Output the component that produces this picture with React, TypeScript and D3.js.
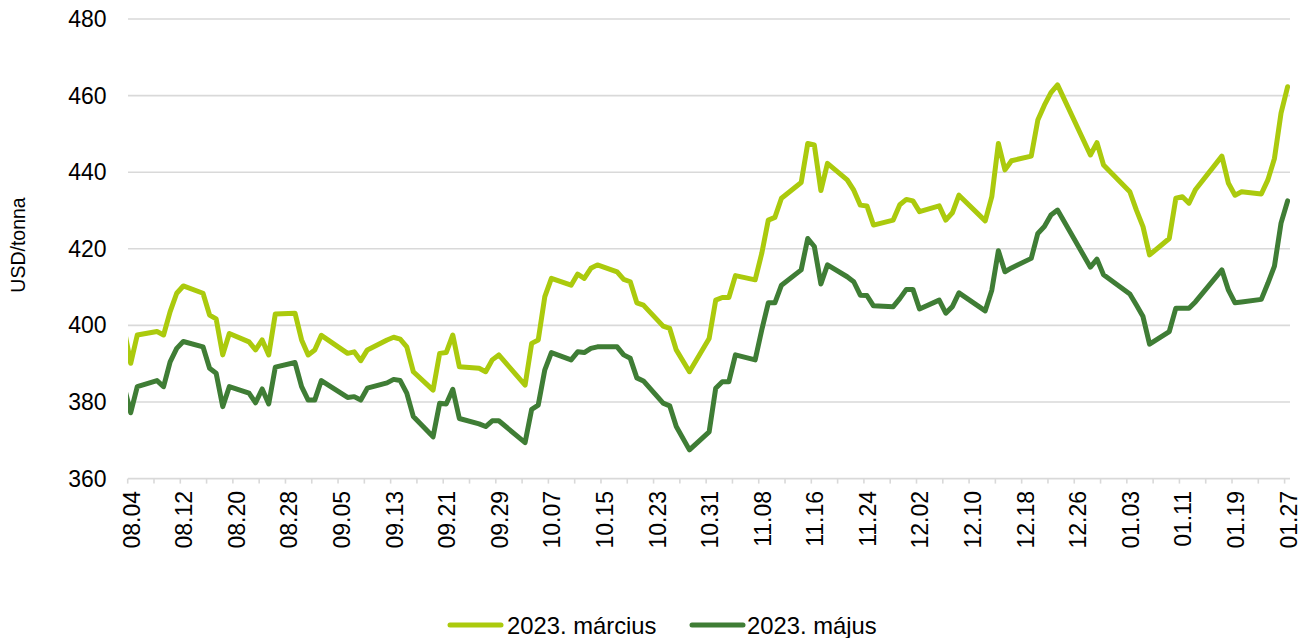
import React from "react";
import * as d3 from "d3";

const dates: string[] = [
  "2022-08-03","2022-08-04","2022-08-05","2022-08-08","2022-08-09","2022-08-10","2022-08-11","2022-08-12",
  "2022-08-15","2022-08-16","2022-08-17","2022-08-18","2022-08-19","2022-08-22","2022-08-23","2022-08-24",
  "2022-08-25","2022-08-26","2022-08-29","2022-08-30","2022-08-31","2022-09-01","2022-09-02","2022-09-06",
  "2022-09-07","2022-09-08","2022-09-09","2022-09-12","2022-09-13","2022-09-14","2022-09-15","2022-09-16",
  "2022-09-19","2022-09-20","2022-09-21","2022-09-22","2022-09-23","2022-09-26","2022-09-27","2022-09-28",
  "2022-09-29","2022-10-03","2022-10-04","2022-10-05","2022-10-06","2022-10-07","2022-10-10","2022-10-11",
  "2022-10-12","2022-10-13","2022-10-14","2022-10-17","2022-10-18","2022-10-19","2022-10-20","2022-10-21",
  "2022-10-24","2022-10-25","2022-10-26","2022-10-28","2022-10-31","2022-11-01","2022-11-02","2022-11-03",
  "2022-11-04","2022-11-07","2022-11-08","2022-11-09","2022-11-10","2022-11-11","2022-11-14","2022-11-15",
  "2022-11-16","2022-11-17","2022-11-18","2022-11-21","2022-11-22","2022-11-23","2022-11-24","2022-11-25",
  "2022-11-28","2022-11-29","2022-11-30","2022-12-01","2022-12-02","2022-12-05","2022-12-06","2022-12-07",
  "2022-12-08","2022-12-12","2022-12-13","2022-12-14","2022-12-15","2022-12-16","2022-12-19","2022-12-20",
  "2022-12-21","2022-12-22","2022-12-23","2022-12-28","2022-12-29","2022-12-30","2023-01-03","2023-01-04",
  "2023-01-05","2023-01-06","2023-01-09","2023-01-10","2023-01-11","2023-01-12","2023-01-13","2023-01-17",
  "2023-01-18","2023-01-19","2023-01-20","2023-01-23","2023-01-24","2023-01-25","2023-01-26","2023-01-27",
];

const marcius: number[] = [
  399.0,390.1,397.5,398.4,397.5,403.6,408.4,410.3,
  408.4,402.7,401.7,392.3,397.9,395.7,393.6,396.2,
  392.3,403.0,403.2,396.2,392.3,393.6,397.4,392.7,
  393.1,390.8,393.6,396.2,396.9,396.4,394.4,387.9,
  383.1,392.7,392.9,397.5,389.2,388.8,387.9,391.0,
  392.3,384.4,395.3,396.2,407.5,412.3,410.5,413.4,
  412.3,414.9,415.8,414.0,412.0,411.4,405.9,405.3,
  399.8,399.2,393.6,387.9,396.6,406.6,407.3,407.3,
  413.0,411.9,418.8,427.5,428.2,433.2,437.3,447.5,
  447.1,435.2,442.3,438.0,435.3,431.4,431.2,426.2,
  427.5,431.5,432.9,432.5,429.7,431.2,427.5,429.4,
  434.0,427.3,433.6,447.5,440.6,443.0,444.2,453.6,
  457.5,460.8,462.8,444.5,447.7,441.9,434.9,430.1,
  425.8,418.4,422.7,433.2,433.6,431.9,435.5,444.2,
  437.1,434.0,434.9,434.3,438.0,443.6,455.4,462.3,
];

const majus: number[] = [
  384.0,377.2,384.0,385.6,384.0,390.5,394.0,395.8,
  394.4,388.8,387.5,378.8,384.0,382.3,379.8,383.4,
  379.5,389.1,390.3,384.0,380.5,380.5,385.6,381.2,
  381.4,380.5,383.6,385.0,385.9,385.6,382.3,376.2,
  370.9,379.7,379.5,383.3,375.7,374.3,373.6,375.1,
  375.1,369.4,378.1,379.2,388.4,392.9,391.0,393.1,
  392.9,394.0,394.4,394.4,392.3,391.4,386.3,385.5,
  379.7,379.0,373.6,367.5,372.2,383.6,385.3,385.3,
  392.3,391.0,398.8,405.9,405.9,410.5,414.5,422.7,
  420.6,410.8,415.8,412.7,411.4,407.9,407.8,405.1,
  404.9,407.0,409.4,409.4,404.3,406.6,403.2,404.9,
  408.5,403.8,409.2,419.5,414.0,415.0,417.5,424.0,
  425.8,428.8,430.1,415.2,417.3,413.2,408.2,405.3,
  402.3,395.1,398.4,404.5,404.5,404.5,406.2,414.5,
  409.2,405.9,406.1,406.8,411.0,415.5,426.7,432.5,
];

const seriesNames: string[] = ["2023. március", "2023. május"];
const seriesColors: string[] = ["#ABCA0D", "#3F7D35"];
const yTicks: number[] = [360, 380, 400, 420, 440, 460, 480];
const axisStart = "2022-08-04";
const axisEnd = "2023-01-27";
const yTitle = "USD/tonna";

const W = 1309;
const H = 638;
const FONT = "'Liberation Sans', Arial, Helvetica, sans-serif";

export default function App() {
  const parse = d3.utcParse("%Y-%m-%d");
  const fmt = d3.utcFormat("%m.%d");
  const t0 = parse(axisStart) as Date;
  const t1 = parse(axisEnd) as Date;
  const x = d3.scaleUtc().domain([t0, t1]).range([130.7, 1287.6]);
  const y = d3.scaleLinear().domain([360, 480]).range([478.6, 19]);
  const plotL = 128;
  const plotR = 1290;

  const parsed = dates.map((s) => parse(s) as Date);
  const series = [marcius, majus].map((vals) =>
    vals.map((v, i) => ({ t: parsed[i], v }))
  );
  const line = d3
    .line<{ t: Date; v: number }>()
    .x((d) => x(d.t))
    .y((d) => y(d.v));

  const totalDays = d3.utcDay.count(t0, t1);
  const tickDates = d3.range(0, totalDays + 1, 4).map((i) => d3.utcDay.offset(t0, i));
  const labelDates = d3.range(0, totalDays + 1, 8).map((i) => d3.utcDay.offset(t0, i));

  const legendItems = [
    { lx: 448, tx: 507 },
    { lx: 690, tx: 747 },
  ];

  return (
    <svg
      width={W}
      height={H}
      style={{ position: "absolute", left: 0, top: 0, background: "#fff" }}
      fontFamily={FONT}
    >
      <defs>
        <clipPath id="plotclip">
          <rect x={plotL} y={0} width={plotR - plotL} height={H} />
        </clipPath>
      </defs>
      {yTicks.map((v) => (
        <g key={v}>
          <line x1={plotL} x2={plotR} y1={y(v)} y2={y(v)} stroke="#D9D9D9" strokeWidth={1.6} />
          <text x={106.5} y={y(v)} textAnchor="end" dominantBaseline="central" fontSize={23} fill="#000">
            {v}
          </text>
        </g>
      ))}
      {tickDates.map((d, i) => (
        <line
          key={i}
          x1={x(d) - 3}
          x2={x(d) - 3}
          y1={y(360)}
          y2={y(360) + 5}
          stroke="#D9D9D9"
          strokeWidth={1.6}
        />
      ))}
      {labelDates.map((d, i) => (
        <text
          key={i}
          transform={`translate(${x(d) + 1},491) rotate(-90)`}
          textAnchor="end"
          dominantBaseline="central"
          fontSize={23}
          fill="#000"
        >
          {fmt(d)}
        </text>
      ))}
      <text
        transform={`translate(18,245) rotate(-90)`}
        textAnchor="middle"
        dominantBaseline="central"
        fontSize={19.5}
        fill="#000"
      >
        {yTitle}
      </text>
      <g clipPath="url(#plotclip)">
        {series.map((s, i) => (
          <path
            key={i}
            d={line(s) || ""}
            fill="none"
            stroke={seriesColors[i]}
            strokeWidth={5}
            strokeLinejoin="round"
            strokeLinecap="round"
          />
        ))}
      </g>
      {seriesNames.map((n, i) => (
        <g key={n}>
          <line
            x1={legendItems[i].lx + 2}
            x2={legendItems[i].lx + 53}
            y1={625}
            y2={625}
            stroke={seriesColors[i]}
            strokeWidth={5}
            strokeLinecap="round"
          />
          <text x={legendItems[i].tx} y={625} dominantBaseline="central" fontSize={23.8} fill="#000">
            {n}
          </text>
        </g>
      ))}
    </svg>
  );
}
